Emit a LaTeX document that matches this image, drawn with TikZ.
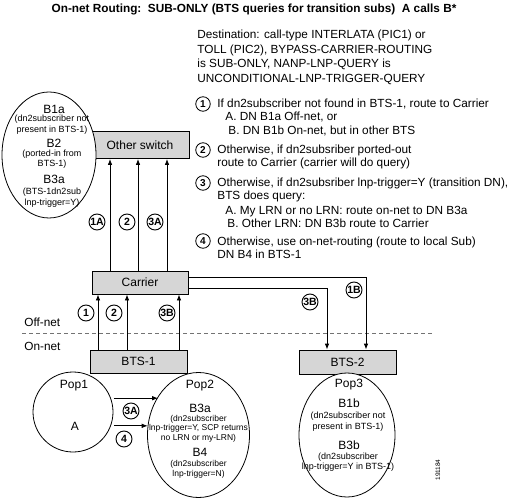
\documentclass[tikz,border=0pt]{standalone}
\usepackage{fontspec}
\setmainfont{Liberation Sans}
\usetikzlibrary{arrows.meta,shapes.geometric,calc}
\definecolor{boxgray}{gray}{0.84}
\definecolor{dashgray}{gray}{0.45}
\begin{document}
\begin{tikzpicture}[x=1bp,y=-1bp,line width=0.8bp,
  txt/.style={font=\fontsize{11.8bp}{14bp}\selectfont,inner sep=0,anchor=base west},
  lbl/.style={font=\fontsize{12bp}{14bp}\selectfont,inner sep=0},
  small/.style={font=\fontsize{9bp}{10bp}\selectfont,inner sep=0},
  smaller/.style={font=\fontsize{8.5bp}{10bp}\selectfont,inner sep=0},
  circ/.style={circle,draw,line width=0.9bp,inner sep=0,minimum size=16bp,font=\bfseries\fontsize{10.5bp}{12bp}\selectfont},
  num/.style={circle,draw,line width=0.8bp,inner sep=0,minimum size=14.5bp,font=\bfseries\fontsize{10bp}{11bp}\selectfont},
  box/.style={draw,fill=boxgray,inner sep=0,minimum height=23bp,font=\fontsize{12bp}{14bp}\selectfont},
  oval/.style={ellipse,draw,fill=white,inner sep=0},
  arr/.style={-{Latex[length=6bp,width=4.5bp]}}]
\useasboundingbox (0,0) rectangle (512,499);

% title
\node[font=\bfseries\fontsize{11.8bp}{14bp}\selectfont,inner sep=0,anchor=base] (title) at (254,13)
  {On-net Routing:\ \ SUB-ONLY (BTS queries for transition subs)\ \ A calls B*};

% header text
\node[txt] (h1) at (197,39) {Destination: call-type INTERLATA (PIC1) or};
\node[txt] (h2) at (197,53.5) {TOLL (PIC2), BYPASS-CARRIER-ROUTING};
\node[txt] (h3) at (197,68) {is SUB-ONLY, NANP-LNP-QUERY is};
\node[txt] (h4) at (197,82.5) {UNCONDITIONAL-LNP-TRIGGER-QUERY};

% list
\node[num] (n1) at (203,104) {1};
\node[txt] (t1) at (217,108) {If dn2subscriber not found in BTS-1, route to Carrier};
\node[txt] (t1a) at (225,121) {A. DN B1a Off-net, or};
\node[txt] (t1b) at (228,135) {B. DN B1b On-net, but in other BTS};
\node[num] (n2) at (203,150) {2};
\node[txt] (t2) at (217,154) {Otherwise, if dn2subsriber ported-out};
\node[txt] (t2b) at (217,167) {route to Carrier (carrier will do query)};
\node[num] (n3) at (203,183) {3};
\node[txt] (t3) at (217,187) {Otherwise, if dn2subsriber lnp-trigger=Y (transition DN),};
\node[txt] (t3b) at (217,200) {BTS does query:};
\node[txt] (t3c) at (225,214) {A. My LRN or no LRN: route on-net to DN B3a};
\node[txt] (t3d) at (227,227) {B. Other LRN: DN B3b route to Carrier};
\node[num] (n4) at (203,241) {4};
\node[txt] (t4) at (217,245) {Otherwise, use on-net-routing (route to local Sub)};
\node[txt] (t4b) at (217,258) {DN B4 in BTS-1};

% boxes
\node[box,minimum width=98bp,minimum height=27bp] (other) at (140,145) {Other switch};
\node[box,minimum width=96bp] (carrier) at (140,282.5) {Carrier};
\node[box,minimum width=97bp] (bts1) at (138.5,361.5) {BTS-1};
\node[box,minimum width=97bp,minimum height=24bp] (bts2) at (347.5,362) {BTS-2};

% ovals
\node[oval,minimum width=94bp,minimum height=126bp] (remote) at (49,155) {};
\node[circle,draw,fill=white,inner sep=0,minimum size=80bp] (pop1) at (73,412) {};
\node[oval,minimum width=102bp,minimum height=125bp] (pop2) at (198.5,435) {};
\node[oval,minimum width=96bp,minimum height=124bp] (pop3) at (347,435) {};

% remote oval text
\node[lbl] (rb1a) at (54,109) {B1a};
\node[small] (rs1) at (52,119.5) {(dn2subscriber not};
\node[small] (rs2) at (52,130.5) {present in BTS-1)};
\node[lbl] (rb2) at (54,143) {B2};
\node[small] (rs3) at (52,154.5) {(ported-in from};
\node[small] (rs4) at (52,164) {BTS-1)};
\node[lbl] (rb3a) at (54,179) {B3a};
\node[small] (rs5) at (52,192) {(BTS-1dn2sub};
\node[small] (rs6) at (52,203) {lnp-trigger=Y)};

% pop1 text
\node[lbl] (p1) at (74,386) {Pop1};
\node[lbl] (pa) at (75,426) {A};

% pop2 text
\node[lbl] (p2) at (200,386) {Pop2};
\node[lbl] (p2b3a) at (200,408.5) {B3a};
\node[smaller] (p2s1) at (198.5,419) {(dn2subscriber};
\node[smaller] (p2s2) at (198.5,428.5) {lnp-trigger=Y, SCP returns};
\node[smaller] (p2s3) at (198.5,438) {no LRN or my-LRN)};
\node[lbl] (p2b4) at (200,452.5) {B4};
\node[smaller] (p2s4) at (198.5,464) {(dn2subscriber};
\node[smaller] (p2s5) at (198.5,474) {lnp-trigger=N)};

% pop3 text
\node[lbl] (p3) at (349,385) {Pop3};
\node[lbl] (p3b1b) at (349,403.5) {B1b};
\node[small] (p3s1) at (348,416) {(dn2subscriber not};
\node[small] (p3s2) at (348,427) {present in BTS-1)};
\node[lbl] (p3b3b) at (349,445) {B3b};
\node[small] (p3s3) at (348,457) {(dn2subscriber};
\node[small] (p3s4) at (348,467) {lnp-trigger=Y in BTS-1)};

% off-net / on-net
\coordinate (dl) at (22,333);
\coordinate (dr) at (435,333);
\draw[dashgray,line width=0.9bp,dash pattern=on 4bp off 3bp] (dl) -- (dr);
\node[txt] (offnet) at (24,326) {Off-net};
\node[txt] (onnet) at (24,350) {On-net};

% column coordinates
\coordinate (ca) at (110,0);
\coordinate (cb) at (138,0);
\coordinate (cc) at (167,0);
\coordinate (ba) at (98,0);
\coordinate (bb) at (127,0);
\coordinate (bc) at (179,0);
\coordinate (r1) at (366,277);
\coordinate (r3) at (327,288);

% carrier -> other switch
\draw[arr] (carrier.north -| ca) -- (other.south -| ca);
\draw[arr] (carrier.north -| cb) -- (other.south -| cb);
\draw[arr] (carrier.north -| cc) -- (other.south -| cc);
% bts1 -> carrier
\draw[arr] (bts1.north -| ba) -- (carrier.south -| ba);
\draw[arr] (bts1.north -| bb) -- (carrier.south -| bb);
\draw[arr] (bts1.north -| bc) -- (carrier.south -| bc);
% carrier -> bts2
\draw[arr] (carrier.east |- r1) -- (r1) -- (bts2.north -| r1);
\draw[arr] (carrier.east |- r3) -- (r3) -- (bts2.north -| r3);
% pop1 -> pop2
\draw[arr] ([xshift=3bp]pop1.20) -- (pop1.20 -| pop2.136);
\draw[arr] ([xshift=3bp]pop1.-20) -- (pop1.-20 -| pop2.191);

% circled labels
\node[circ] (l1a) at (97,222) {1A};
\node[circ] (l2u) at (127,222) {2};
\node[circ] (l3a) at (155,222) {3A};
\node[circ] (l1) at (86,313) {1};
\node[circ] (l2) at (114,313) {2};
\node[circ] (l3b) at (167,313) {3B};
\node[circ] (r1b) at (354,290) {1B};
\node[circ] (r3b) at (310,302) {3B};
\node[circ] (q3a) at (131,411) {3A};
\node[circ] (q4) at (124,439) {4};

% figure number
\node[font=\fontsize{6.5bp}{8bp}\selectfont,inner sep=0,rotate=90] (fig) at (438,470) {191184};
\end{tikzpicture}
\end{document}
